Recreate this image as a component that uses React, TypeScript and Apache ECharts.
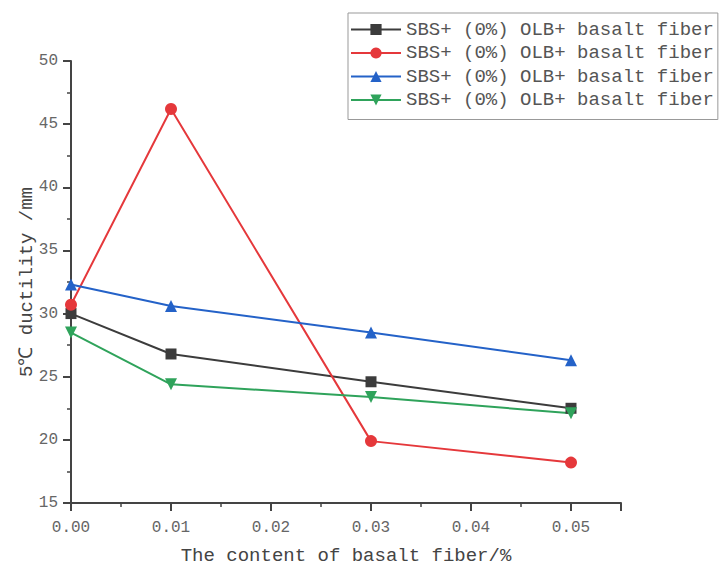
import React, { useEffect, useRef } from "react";
import * as echarts from "echarts";

const xValues = [0, 0.01, 0.03, 0.05];
const seriesNames = [
  "SBS+ (0%) OLB+ basalt fiber",
  "SBS+ (0%) OLB+ basalt fiber ",
  "SBS+ (0%) OLB+ basalt fiber  ",
  "SBS+ (0%) OLB+ basalt fiber   ",
];
const blackValues = [30.0, 26.8, 24.6, 22.5];
const redValues = [30.7, 46.2, 19.9, 18.2];
const blueValues = [32.3, 30.6, 28.5, 26.3];
const greenValues = [28.5, 24.4, 23.4, 22.1];

const FONT = "'Liberation Mono', 'DejaVu Sans Mono', monospace";

export default function App() {
  const ref = useRef<HTMLDivElement>(null);
  useEffect(() => {
    if (!ref.current) return;
    const chart = echarts.init(ref.current, null, { renderer: "svg" });
    const mk = (name: string, vals: number[], color: string, symbol: string, rotate = 0) => ({
      name,
      type: "line",
      data: xValues.map((x, i) => [x, vals[i]]),
      symbol,
      symbolSize: symbol === "rect" ? 11 : 12,
      symbolRotate: rotate,
      itemStyle: { color },
      lineStyle: { color, width: 2 },
      z: 3,
    });
    chart.setOption({
      animation: false,
      backgroundColor: "#fff",
      grid: { left: 71, top: 61, right: 100, bottom: 66 },
      legend: {
        orient: "vertical",
        left: 348,
        top: 13,
        padding: [7, 4, 10, 2],
        itemWidth: 50,
        itemHeight: 14,
        itemGap: 4.5,
        borderColor: "#999",
        borderWidth: 1,
        textStyle: { fontFamily: FONT, fontSize: 19, color: "#555", lineHeight: 19, padding: [0, 0, 0, 0] },
        data: seriesNames,
        formatter: (n: string) => n.trim(),
      },
      xAxis: {
        type: "value",
        min: 0,
        max: 0.055,
        interval: 0.01,
        name: "The content of basalt fiber/%",
        nameLocation: "middle",
        nameGap: 43,
        nameMoveOverlap: false,
        nameTextStyle: { fontFamily: FONT, fontSize: 19, color: "#444" },
        axisLine: { show: true, onZero: false, lineStyle: { color: "#444", width: 2 } },
        axisTick: { show: true, inside: false, length: 8, lineStyle: { color: "#444", width: 2 } },
        minorTick: { show: true, splitNumber: 2, length: 4, lineStyle: { color: "#444", width: 1.5 } },
        splitLine: { show: false },
        axisLabel: {
          fontFamily: FONT,
          fontSize: 16,
          color: "#666",
          margin: 17,
          formatter: (v: number) => {
            const k = Math.round(v * 100);
            return Math.abs(v * 100 - k) < 1e-6 ? (k / 100).toFixed(2) : "";
          },
        },
      },
      yAxis: {
        type: "value",
        min: 15,
        max: 50,
        interval: 5,
        name: "5℃ ductility /mm",
        nameLocation: "middle",
        nameGap: 35,
        nameMoveOverlap: false,
        nameTextStyle: { fontFamily: FONT, fontSize: 19, color: "#444" },
        axisLine: { show: true, lineStyle: { color: "#444", width: 2 } },
        axisTick: { show: true, inside: false, length: 8, lineStyle: { color: "#444", width: 2 } },
        minorTick: { show: true, splitNumber: 2, length: 4, lineStyle: { color: "#444", width: 1.5 } },
        splitLine: { show: false },
        axisLabel: { fontFamily: FONT, fontSize: 16, color: "#666", margin: 13 },
      },
      series: [
        mk(seriesNames[0], blackValues, "#3c3c3c", "rect"),
        mk(seriesNames[1], redValues, "#e5383b", "circle"),
        mk(seriesNames[2], blueValues, "#2462c8", "triangle"),
        mk(seriesNames[3], greenValues, "#2fa35b", "triangle", 180),
      ],
    });
    return () => chart.dispose();
  }, []);
  return (
    <div
      ref={ref}
      style={{ position: "absolute", left: 0, top: 0, width: 721, height: 570 }}
    />
  );
}
